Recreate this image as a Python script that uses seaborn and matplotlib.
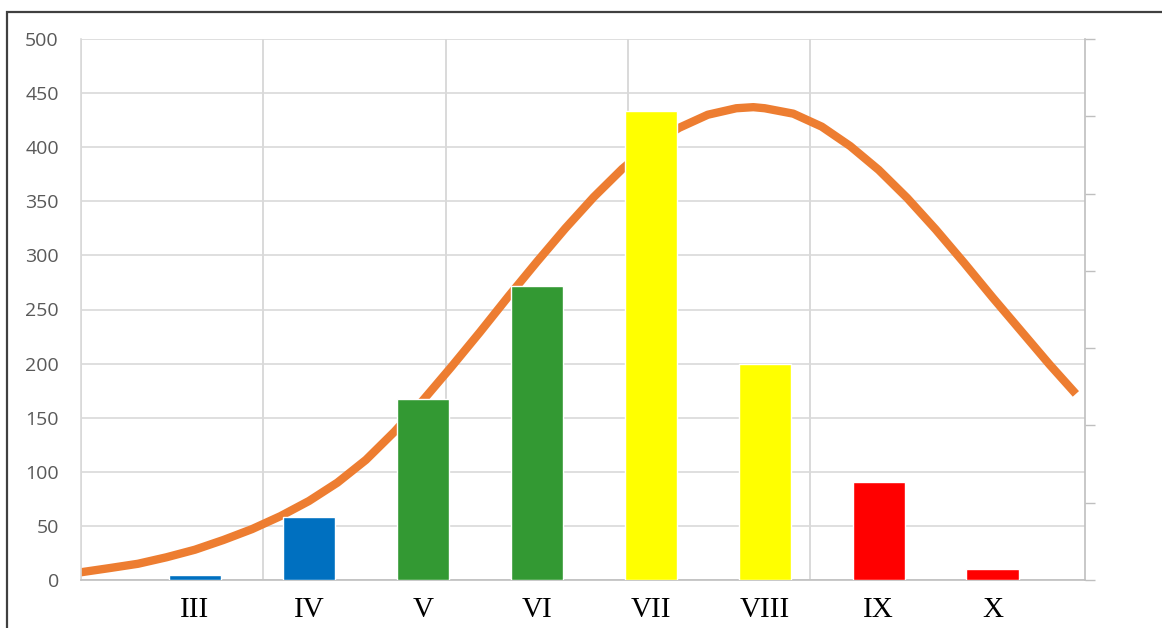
import matplotlib
matplotlib.use("Agg")
import matplotlib.pyplot as plt
from matplotlib.patches import Rectangle
import pandas as pd
import seaborn as sns

# Number of pupils per class, coloured by group
classes = ["III", "IV", "V", "VI", "VII", "VIII", "IX", "X"]
counts = [5, 58, 167, 272, 433, 200, 91, 10]
bar_colors = ["#0070C0", "#0070C0", "#339933", "#339933",
              "#FFFF00", "#FFFF00", "#FF0000", "#FF0000"]

# Distribution curve drawn over the bars (x in class-position units)
curve_x = [-1.01, -0.75, -0.5, -0.25, 0.0, 0.25, 0.5, 0.75, 1.0, 1.25,
           1.5, 1.75, 2.0, 2.25, 2.5, 2.75, 3.0, 3.25, 3.5, 3.75,
           4.0, 4.25, 4.5, 4.75, 4.9, 5.0, 5.25, 5.5, 5.75, 6.0, 6.25,
           6.5, 6.75, 7.0, 7.25, 7.5, 7.73]
curve_y = [7, 11, 15, 21, 28, 37, 47, 59, 73, 90,
           111, 137, 166, 197, 229, 262, 294, 325, 354, 380,
           402, 418, 430, 436, 437, 436, 431, 419, 401, 379, 353,
           324, 293, 261, 230, 199, 172]

y_ticks = [0, 50, 100, 150, 200, 250, 300, 350, 400, 450, 500]

sns.set_style("white")
plt.rcParams["font.family"] = ["Open Sans", "DejaVu Sans"]

W, H = 1162, 628
fig = plt.figure(figsize=(W / 100, H / 100), dpi=100)
fig.patch.set_facecolor("white")
ax = fig.add_axes([81 / W, 1 - 580 / H, (1085 - 81) / W, (580 - 39) / H])

df = pd.DataFrame({"cls": classes, "n": counts})
sns.barplot(data=df, x="cls", y="n", hue="cls",
            palette=dict(zip(classes, bar_colors)), width=0.46,
            saturation=1, legend=False, ax=ax, zorder=3)

sns.lineplot(x=curve_x, y=curve_y, ax=ax, color="#ED7D31", linewidth=6,
             sort=False, estimator=None, zorder=2,
             solid_capstyle="butt", solid_joinstyle="round")

ax.set_xlim(-1.0, 7.81)
ax.set_ylim(0, 500)
ax.set_xlabel("")
ax.set_ylabel("")

# horizontal grid every 50, vertical grid on a separate coarser spacing
ax.set_yticks(y_ticks)
ax.set_xticks(range(len(classes)))
ax.set_xticklabels(classes, fontfamily="Liberation Serif", fontsize=21,
                   color="black")
ax.set_xticks([-1.0 + 1.6 * k for k in range(6)], minor=True)
ax.set_axisbelow(True)
ax.yaxis.grid(True, color="#D9D9D9", linewidth=1.2)
ax.xaxis.grid(True, which="minor", color="#D3D3D3", linewidth=1.2)
ax.xaxis.grid(False, which="major")

ax.tick_params(axis="x", which="both", length=0, pad=12)
ax.tick_params(axis="y", length=0, pad=16, labelsize=14, labelcolor="#595959")

for side in ["top", "right"]:
    ax.spines[side].set_visible(False)
ax.spines["left"].set_color("#D9D9D9")
ax.spines["left"].set_linewidth(1.2)
ax.spines["bottom"].set_color("#BFBFBF")
ax.spines["bottom"].set_linewidth(1.2)

# secondary scale on the right with unlabelled outward ticks
ax2 = ax.twinx()
ax2.set_ylim(0, 7)
ax2.set_yticks(range(8))
ax2.tick_params(axis="y", direction="out", length=7, width=1,
                color="#BFBFBF", labelright=False)
for side in ["top", "left", "bottom"]:
    ax2.spines[side].set_visible(False)
ax2.spines["right"].set_color("#BFBFBF")
ax2.spines["right"].set_linewidth(1.2)
ax2.grid(False)

# frame around the chart
fig.add_artist(Rectangle((7 / W, -0.1), 1.2, (1 - 12 / H) + 0.1,
                         transform=fig.transFigure, fill=False,
                         edgecolor="#404040", linewidth=1.6))

fig.savefig("out.png", dpi=100)
